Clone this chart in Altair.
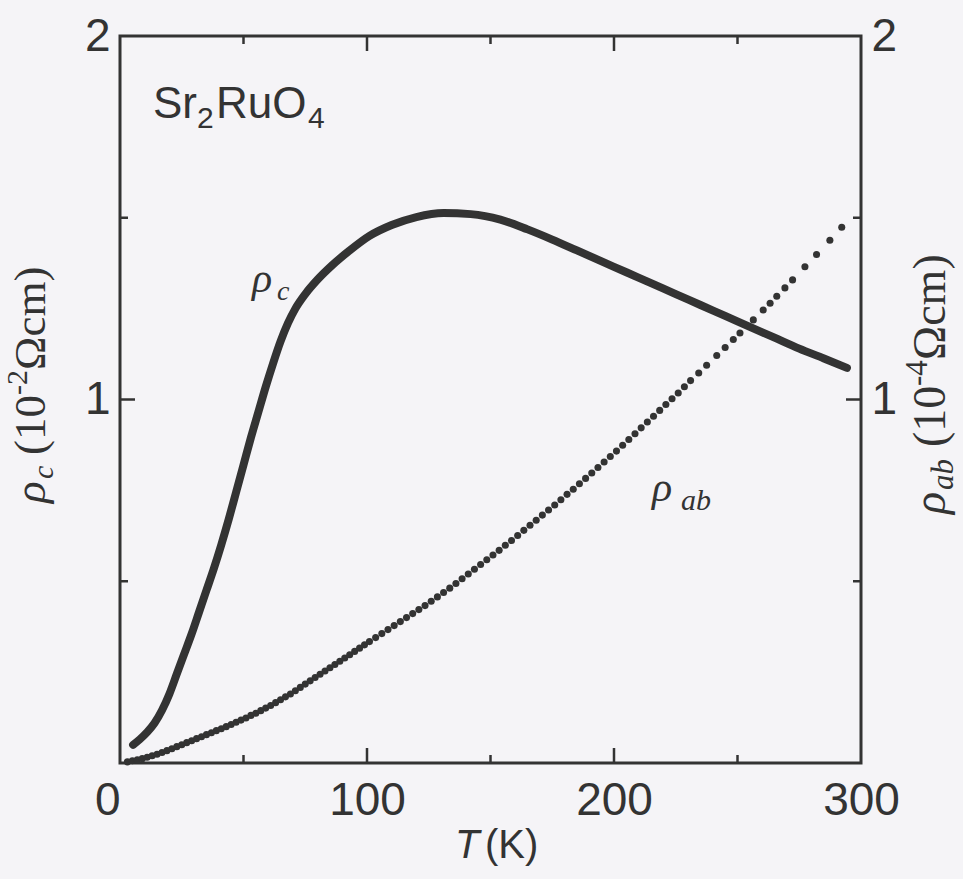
import altair as alt
import pandas as pd

# ---- measured data -------------------------------------------------------
# c-axis resistivity (10^-2 Ohm cm) vs temperature (K)
T_c = [5.3, 8, 11, 14, 17, 20, 23, 26, 29, 32, 35, 38, 41, 44, 47, 50, 53, 56,
       59, 62, 65, 68, 71, 75, 80, 86, 93, 101, 110, 120, 131, 142, 154, 165,
       175, 185, 195, 205, 215, 225, 235, 245, 255, 265, 275, 285, 294.3]
rho_c = [0.05, 0.065, 0.085, 0.11, 0.145, 0.19, 0.245, 0.30, 0.355, 0.415,
         0.475, 0.535, 0.60, 0.67, 0.745, 0.82, 0.895, 0.965, 1.035, 1.10, 1.16,
         1.21, 1.25, 1.29, 1.33, 1.37, 1.41, 1.45, 1.48, 1.502, 1.513, 1.51,
         1.495, 1.468, 1.44, 1.41, 1.38, 1.35, 1.32, 1.29, 1.26, 1.23, 1.20,
         1.17, 1.14, 1.113, 1.087]

# in-plane resistivity (10^-4 Ohm cm) vs temperature (K)
T_ab = [3, 5, 7, 9, 11, 13, 15, 17, 19, 21, 23, 25, 27, 29, 31, 33, 35, 37, 39,
        41, 43, 45, 47, 49, 51, 53, 55, 57, 59, 61, 63, 65, 67, 69, 71, 73, 75,
        77, 79, 81, 83, 85, 87, 89, 91, 93, 95, 97, 99, 101, 103.5, 106, 108.5,
        111, 113.5, 116, 118.5, 121, 123.5, 126, 128.5, 131, 133.5, 136, 138.5,
        141, 143.5, 146, 148.5, 151, 153.5, 156, 158.5, 161, 163.5, 166, 168.5,
        171, 173.5, 176, 178.5, 181, 183.5, 186, 188.5, 191, 193.5, 196, 198.5,
        201, 203.5, 206, 208.5, 211, 213.5, 216, 218.5, 221, 223.5, 226, 228.5,
        231, 234.3, 237.5, 241.6, 245, 248.3, 251, 256.4, 260.4, 263.2, 265.9,
        269.2, 272.3, 277.3, 282, 287.4, 292.2]
rho_ab = [0.003, 0.006, 0.009, 0.012, 0.016, 0.020, 0.024, 0.029, 0.034, 0.039,
          0.045, 0.050, 0.056, 0.061, 0.067, 0.072, 0.078, 0.083, 0.089, 0.094,
          0.100, 0.106, 0.112, 0.118, 0.124, 0.131, 0.137, 0.144, 0.151, 0.158,
          0.166, 0.174, 0.182, 0.190, 0.199, 0.208, 0.217, 0.226, 0.235, 0.244,
          0.253, 0.262, 0.271, 0.280, 0.289, 0.298, 0.307, 0.316, 0.325, 0.334,
          0.345, 0.356, 0.367, 0.378, 0.389, 0.400, 0.411, 0.422, 0.433, 0.445,
          0.457, 0.469, 0.481, 0.494, 0.507, 0.520, 0.533, 0.546, 0.559, 0.572,
          0.585, 0.599, 0.612, 0.626, 0.640, 0.654, 0.668, 0.682, 0.696, 0.710,
          0.724, 0.739, 0.753, 0.768, 0.783, 0.798, 0.813, 0.828, 0.843, 0.858,
          0.874, 0.890, 0.906, 0.922, 0.938, 0.954, 0.970, 0.986, 1.002, 1.018,
          1.035, 1.052, 1.073, 1.094, 1.121, 1.143, 1.165, 1.183, 1.219, 1.246,
          1.265, 1.284, 1.307, 1.329, 1.365, 1.399, 1.438, 1.474]

# axis ticks and labels
x_labels = [0, 100, 200, 300]
y_labels = [1, 2]
x_major = [100, 200]
x_minor = [50, 150, 250]
y_major = [1]
y_minor = [0.5, 1.5]

# ---- layout ---------------------------------------------------------------
W, H = 741, 727
INK = "#333333"
SANS = "Liberation Sans"
SERIF = "Liberation Serif"
MAJOR, MINOR = 15, 8

xs = alt.Scale(domain=[0, 300], nice=False, zero=False)
ys = alt.Scale(domain=[0, 2], nice=False, zero=False)

df_c = pd.DataFrame({"T": T_c, "rho": rho_c})
df_ab = pd.DataFrame({"T": T_ab, "rho": rho_ab})

x_axis = alt.Axis(values=x_labels, title=None, domain=False, ticks=False, tickSize=0,
                  grid=False, labelFontSize=46, labelFont=SANS, labelColor=INK,
                  labelPadding=15, labelFlush=False,
                  labelAlign={"condition": {"test": "datum.value == 0", "value": "right"},
                              "value": "center"})

def y_axis(orient):
    return alt.Axis(values=y_labels, title=None, domain=False, ticks=False, tickSize=0,
                    grid=False, labelFontSize=46, labelFont=SANS, labelColor=INK,
                    labelPadding=10, labelFlush=False, orient=orient)

X_T = alt.X("T:Q", scale=xs, axis=x_axis)

line_c = alt.Chart(df_c).mark_line(
    color=INK, strokeWidth=8, strokeCap="round", interpolate="monotone"
).encode(x=X_T, y=alt.Y("rho:Q", scale=ys, axis=y_axis("left")))

dots_ab = alt.Chart(df_ab).mark_circle(color=INK, size=50, opacity=1).encode(
    x=X_T, y=alt.Y("rho:Q", scale=ys, axis=y_axis("right")))

# inward tick marks on all four sides
def xticks(vals, length):
    d = pd.DataFrame({"T": vals})
    bottom = alt.Chart(d).mark_rule(color=INK, strokeWidth=2.5).encode(
        x=X_T, y=alt.value(H), y2=alt.value(H - length))
    top = alt.Chart(d).mark_rule(color=INK, strokeWidth=2.5).encode(
        x=X_T, y=alt.value(0), y2=alt.value(length))
    return [bottom, top]

def yticks(vals, length):
    d = pd.DataFrame({"v": vals})
    left = alt.Chart(d).mark_rule(color=INK, strokeWidth=2.5).encode(
        y=alt.Y("v:Q", scale=ys, axis=None), x=alt.value(0), x2=alt.value(length))
    right = alt.Chart(d).mark_rule(color=INK, strokeWidth=2.5).encode(
        y=alt.Y("v:Q", scale=ys, axis=None), x=alt.value(W), x2=alt.value(W - length))
    return [left, right]

ticks = xticks(x_major, MAJOR) + xticks(x_minor, MINOR) + yticks(y_major, MAJOR) + yticks(y_minor, MINOR)

def label(text, x, y, size, font=SANS, style="normal", angle=0, align="left"):
    return alt.Chart(pd.DataFrame({"t": [text]})).mark_text(
        align=align, baseline="alphabetic", fontSize=size, font=font,
        fontStyle=style, color=INK, angle=angle
    ).encode(x=alt.value(x), y=alt.value(y), text="t:N")

texts = [
    # compound name
    label("Sr", 33, 82, 44),
    label("2", 77, 92, 30),
    label("RuO", 96, 82, 44),
    label("4", 188, 92, 30),
    # curve labels
    label("ρ", 132, 256, 42, SERIF, "italic"),
    label("c", 157, 264, 28, SERIF, "italic"),
    label("ρ", 532, 465, 42, SERIF, "italic"),
    label("ab", 561, 474, 30, SERIF, "italic"),
    # x-axis title
    label("T", 335, 822, 40, SANS, "italic"),
    label("(K)", 365, 822, 40, SANS),
    # left axis title (rotated, reads upward)
    label("ρ", -75, 467, 45, SERIF, "italic", 270),
    label("c", -67, 443, 30, SERIF, "italic", 270),
    label("(10", -75, 419, 45, SERIF, "normal", 270),
    label("-2", -93, 359, 30, SERIF, "normal", 270),
    label("Ωcm)", -75, 334, 45, SERIF, "normal", 270),
    # right axis title (rotated, reads upward)
    label("ρ", 825, 478, 46, SERIF, "italic", 270),
    label("ab", 833, 454, 31, SERIF, "italic", 270),
    label("(10", 825, 411, 46, SERIF, "normal", 270),
    label("-4", 807, 350, 31, SERIF, "normal", 270),
    label("Ωcm)", 825, 324, 46, SERIF, "normal", 270),
]

chart = alt.layer(line_c, dots_ab, *ticks, *texts).resolve_scale(
    y="independent"
).properties(
    width=W, height=H,
    padding={"left": 120, "top": 36, "right": 102, "bottom": 116},
    autosize=alt.AutoSizeParams(type="none"),
    background="#f5f4f7",
).configure_view(stroke=INK, strokeWidth=3)

chart.save("out.html", embed_options={"renderer": "svg", "actions": False})
